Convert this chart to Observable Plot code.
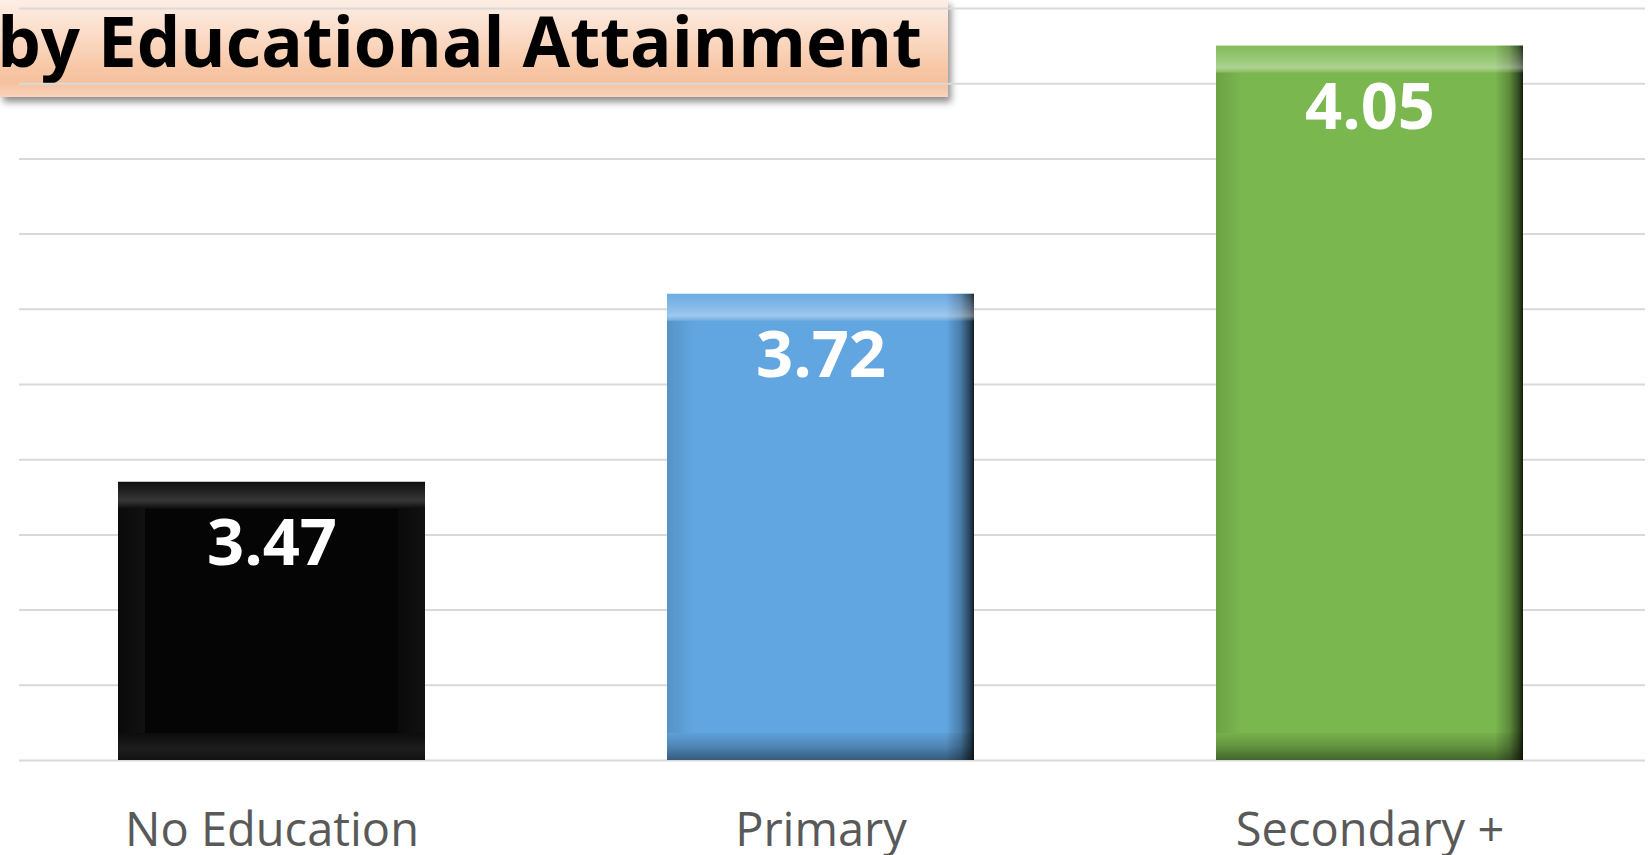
<!DOCTYPE html>
<html>
<head>
<meta charset="utf-8">
<script src="https://cdn.jsdelivr.net/npm/d3@7"></script>
<script src="https://cdn.jsdelivr.net/npm/@observablehq/plot@0.6"></script>
<style>
  html, body { margin: 0; padding: 0; background: #ffffff; }
  #wrap { position: relative; width: 1648px; height: 855px; overflow: hidden; }
  #titlebox {
    position: absolute; left: 0; top: 0; width: 948px; height: 97px;
    background: linear-gradient(to bottom, #fdeee5 0%, #fbdcc8 35%, #f7c7a6 70%, #f5c19d 85%, #f9d4bb 100%);
    box-shadow: 3px 5px 7px rgba(0,0,0,0.45);
    overflow: hidden;
    z-index: 0;
  }
  #titlebox span {
    position: absolute; right: 26px; top: 6px;
    font-family: "Open Sans", sans-serif; font-weight: 700; font-size: 69px; line-height: 69px;
    color: #000; white-space: nowrap; letter-spacing: 0px;
  }
  #chart { position: absolute; left: 0; top: 0; z-index: 1; }
  #chart svg { background: transparent !important; }
</style>
</head>
<body>
<svg width="0" height="0" style="position:absolute">
  <defs>
    <linearGradient id="topL" x1="0" y1="0" x2="0" y2="1">
      <stop offset="0" stop-color="#fff" stop-opacity="0.06"/>
      <stop offset="0.55" stop-color="#fff" stop-opacity="0.25"/>
      <stop offset="0.82" stop-color="#fff" stop-opacity="0.38"/>
      <stop offset="1" stop-color="#fff" stop-opacity="0.08"/>
    </linearGradient>
    <linearGradient id="botL" x1="0" y1="0" x2="0" y2="1">
      <stop offset="0" stop-color="#000" stop-opacity="0.04"/>
      <stop offset="0.5" stop-color="#000" stop-opacity="0.2"/>
      <stop offset="1" stop-color="#000" stop-opacity="0.45"/>
    </linearGradient>
    <linearGradient id="rightL" x1="0" y1="0" x2="1" y2="0">
      <stop offset="0" stop-color="#000" stop-opacity="0.02"/>
      <stop offset="0.5" stop-color="#000" stop-opacity="0.25"/>
      <stop offset="0.85" stop-color="#000" stop-opacity="0.6"/>
      <stop offset="1" stop-color="#000" stop-opacity="0.85"/>
    </linearGradient>
    <linearGradient id="leftL" x1="0" y1="0" x2="1" y2="0">
      <stop offset="0" stop-color="#000" stop-opacity="0.12"/>
      <stop offset="1" stop-color="#000" stop-opacity="0"/>
    </linearGradient>
    <linearGradient id="topD" x1="0" y1="0" x2="0" y2="1">
      <stop offset="0" stop-color="#fff" stop-opacity="0.04"/>
      <stop offset="0.7" stop-color="#fff" stop-opacity="0.2"/>
      <stop offset="1" stop-color="#fff" stop-opacity="0.03"/>
    </linearGradient>
    <linearGradient id="botD" x1="0" y1="0" x2="0" y2="1">
      <stop offset="0" stop-color="#fff" stop-opacity="0.03"/>
      <stop offset="0.6" stop-color="#fff" stop-opacity="0.1"/>
      <stop offset="1" stop-color="#fff" stop-opacity="0.05"/>
    </linearGradient>
    <linearGradient id="sideD" x1="0" y1="0" x2="1" y2="0">
      <stop offset="0" stop-color="#fff" stop-opacity="0.02"/>
      <stop offset="1" stop-color="#fff" stop-opacity="0.05"/>
    </linearGradient>
  </defs>
</svg>
<div id="wrap">
  <div id="titlebox"><span>by Educational Attainment</span></div>
  <div id="chart"></div>
</div>
<script>
// ---- data ----
const categories = ["No Education", "Primary", "Secondary +"];
const values = [3.47, 3.72, 4.05];
const valueLabels = ["3.47", "3.72", "4.05"];
const barColors = ["#050505", "#62a6e1", "#7bb74f"];
const yTicks = [3.1, 3.2, 3.3, 3.4, 3.5, 3.6, 3.7, 3.8, 3.9, 4.0, 4.1];

const data = categories.map((c, i) => ({cat: c, value: values[i], label: valueLabels[i]}));
const yMin = yTicks[0];
const bevel = 27;
const isDark = d => d.cat === categories[0];
const isLight = d => d.cat !== categories[0];

const chart = Plot.plot({
  width: 1648,
  height: 855,
  marginTop: 8,
  marginBottom: 95,
  marginLeft: 19,
  marginRight: 3,
  style: {fontFamily: "'Open Sans', sans-serif", background: "transparent"},
  x: {domain: categories, range: [-3, 1644], paddingInner: 0.44, paddingOuter: 0.22},
  y: {domain: [yTicks[0], yTicks[yTicks.length - 1]], axis: null},
  color: {domain: categories, range: barColors},
  marks: [
    Plot.ruleY(yTicks, {stroke: "#d9d9d9", strokeWidth: 2}),
    Plot.barY(data, {x: "cat", y1: yMin, y2: "value", fill: "cat"}),
    // bevel overlays for coloured bars
    Plot.barY(data, {filter: isLight, x: "cat", y1: yMin, y2: "value", insetLeft: 307 - bevel, fill: "url(#rightL)"}),
    Plot.barY(data, {filter: isLight, x: "cat", y1: yMin, y2: "value", insetRight: 307 - bevel, insetTop: bevel, insetBottom: bevel, fill: "url(#leftL)"}),
    Plot.barY(data, {filter: isLight, x: "cat", y1: "value", y2: "value", insetBottom: -bevel, fill: "url(#topL)"}),
    Plot.barY(data, {filter: isLight, x: "cat", y1: yMin, y2: yMin, insetTop: -bevel, fill: "url(#botL)"}),
    // bevel overlays for black bar
    Plot.barY(data, {filter: isDark, x: "cat", y1: "value", y2: "value", insetBottom: -bevel, fill: "url(#topD)"}),
    Plot.barY(data, {filter: isDark, x: "cat", y1: yMin, y2: yMin, insetTop: -bevel, fill: "url(#botD)"}),
    Plot.barY(data, {filter: isDark, x: "cat", y1: yMin, y2: "value", insetRight: 307 - bevel, insetTop: bevel, insetBottom: bevel, fill: "url(#sideD)"}),
    Plot.barY(data, {filter: isDark, x: "cat", y1: yMin, y2: "value", insetLeft: 307 - bevel, insetTop: bevel, insetBottom: bevel, fill: "url(#sideD)"}),
    // value labels
    Plot.text(data, {x: "cat", y: "value", text: "label", dy: 62, fill: "#ffffff", fontSize: 65, fontWeight: 700}),
    // category axis
    Plot.axisX({tickSize: 0, tickPadding: 52, fontSize: 47, fill: "#595959", label: null})
  ]
});
document.getElementById("chart").appendChild(chart);
</script>
</body>
</html>
